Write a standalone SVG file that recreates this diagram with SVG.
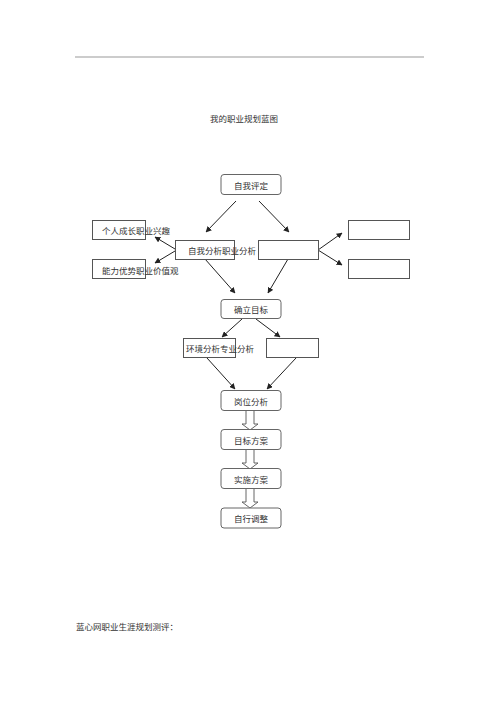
<svg xmlns="http://www.w3.org/2000/svg" width="500" height="707" viewBox="0 0 500 707">
<defs>
<marker id="ah" viewBox="0 0 10 10" refX="9" refY="5" markerWidth="6" markerHeight="6" markerUnits="userSpaceOnUse" orient="auto">
<path d="M0,0 L10,5 L0,10 z" fill="#222"/>
</marker>
<style>
text{font-family:"Noto Sans CJK SC","Liberation Sans",sans-serif;font-size:8.5px;fill:#333;dominant-baseline:central}
.rb{fill:#fff;stroke:#666;stroke-width:1}
.sb{fill:#fff;stroke:#555;stroke-width:1}
.ln{stroke:#222;stroke-width:1;fill:none;marker-end:url(#ah)}
.blk{fill:#fff;stroke:#555;stroke-width:0.9}
</style>
</defs>
<rect width="500" height="707" fill="#fff"/>
<line x1="75" y1="57" x2="424" y2="57" stroke="#999" stroke-width="1"/>
<text x="244" y="118" text-anchor="middle">我的职业规划蓝图</text>

<g id="connectors">
<line class="ln" x1="236" y1="201" x2="206" y2="232"/>
<line class="ln" x1="259" y1="201" x2="289" y2="232"/>
<line class="ln" x1="175" y1="249" x2="155" y2="237"/>
<line class="ln" x1="175" y1="251" x2="155" y2="263"/>
<line class="ln" x1="318" y1="250" x2="342" y2="233"/>
<line class="ln" x1="318" y1="250" x2="342" y2="265"/>
<line class="ln" x1="205" y1="259" x2="235" y2="293"/>
<line class="ln" x1="288" y1="259" x2="268" y2="293"/>
<line class="ln" x1="242" y1="319" x2="222" y2="337"/>
<line class="ln" x1="256" y1="319" x2="280" y2="337"/>
<line class="ln" x1="207" y1="358" x2="235" y2="389"/>
<line class="ln" x1="296" y1="358" x2="267" y2="389"/>
<path class="blk" d="M246,410 L246,424 L242,424 L250,430 L258,424 L254,424 L254,410"/>
<path class="blk" d="M246,449 L246,463 L242,463 L250,469 L258,463 L254,463 L254,449"/>
<path class="blk" d="M246,488 L246,502 L242,502 L250,508 L258,502 L254,502 L254,488"/>
</g>

<g id="n-ziwopingding"><rect class="rb" x="221" y="174.5" width="60" height="20" rx="3"/><text x="251" y="184.5" text-anchor="middle">自我评定</text></g>
<g id="n-geren"><rect class="sb" x="92.5" y="220.5" width="53" height="19"/><text x="102" y="230">个人成长职业兴趣</text></g>
<g id="n-nengli"><rect class="sb" x="92.5" y="259.5" width="53" height="19"/><text x="102" y="269.5">能力优势职业价值观</text></g>
<g id="n-ziwofenxi"><rect class="sb" x="175.5" y="240.5" width="59" height="19"/><text x="188" y="250">自我分析职业分析</text></g>
<g id="n-blank1"><rect class="sb" x="258.5" y="240.5" width="60" height="19"/></g>
<g id="n-blank2"><rect class="sb" x="348.5" y="220.5" width="61" height="19"/></g>
<g id="n-blank3"><rect class="sb" x="348.5" y="259.5" width="61" height="19"/></g>
<g id="n-queli"><rect class="rb" x="221" y="299.5" width="60" height="19" rx="3"/><text x="251" y="309" text-anchor="middle">确立目标</text></g>
<g id="n-huanjing"><rect class="sb" x="183.5" y="338.5" width="52" height="19"/><text x="186" y="348">环境分析专业分析</text></g>
<g id="n-blank4"><rect class="sb" x="266.5" y="338.5" width="52" height="19"/></g>
<g id="n-gangwei"><rect class="rb" x="221" y="390.5" width="60" height="20" rx="3"/><text x="251" y="400.5" text-anchor="middle">岗位分析</text></g>
<g id="n-mubiao"><rect class="rb" x="221" y="429.5" width="60" height="20" rx="3"/><text x="251" y="439.5" text-anchor="middle">目标方案</text></g>
<g id="n-shishi"><rect class="rb" x="221" y="468.5" width="60" height="20" rx="3"/><text x="251" y="478.5" text-anchor="middle">实施方案</text></g>
<g id="n-zixing"><rect class="rb" x="221" y="508" width="60" height="20" rx="3"/><text x="251" y="518" text-anchor="middle">自行调整</text></g>

<text x="76" y="626">蓝心网职业生涯规划测评：</text>
</svg>
